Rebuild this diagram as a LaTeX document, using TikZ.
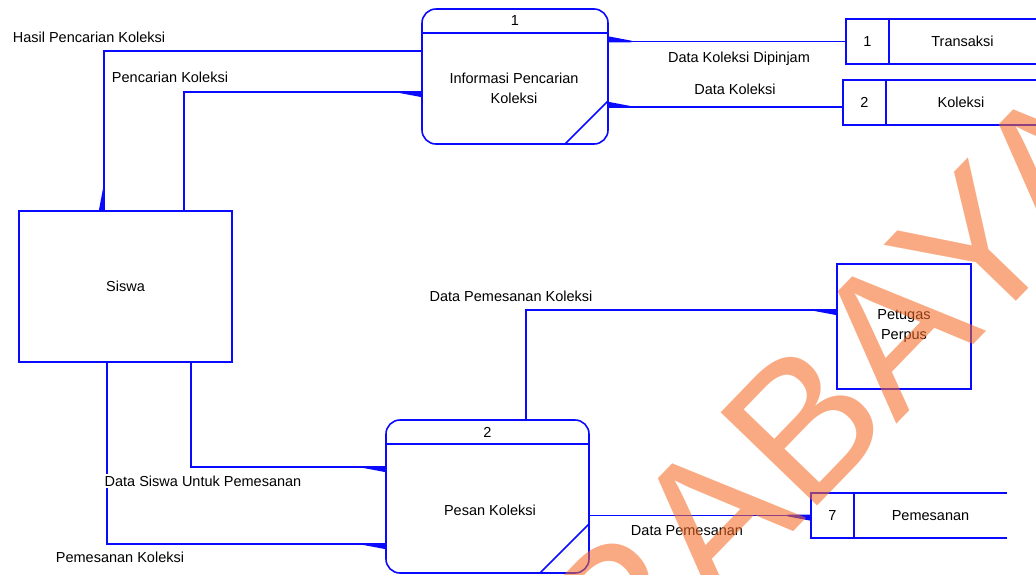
\documentclass[tikz,border=0pt]{standalone}
\usepackage{fontspec}
\setmainfont{Liberation Sans}
\usepackage{tikz}
\usetikzlibrary{arrows.meta,calc}

\definecolor{flowblue}{RGB}{10,10,255}
\definecolor{wmorange}{RGB}{245,105,35}

\begin{document}
\begin{tikzpicture}[x=1pt, y=-1pt, >={Triangle[reversed, right, length=28pt, width=10pt]},
  every node/.style={font=\fontsize{14.5pt}{20pt}\selectfont, inner sep=0pt, outer sep=0pt},
  box/.style={draw=flowblue, line width=1.6pt},
  proc/.style={box, rounded corners=14pt},
  entity/.style={box, align=center},
  store/.style={minimum height=45pt},
  flow/.style={draw=flowblue, line width=1.6pt, ->},
  watermark/.style={anchor=base, rotate=46, font=\fontsize{195pt}{195pt}\selectfont,
    text=wmorange, text opacity=0.57}]

\useasboundingbox (0,0) rectangle (1036,574);
\clip (0,0) rectangle (1036,574);

% processes
\node[proc, minimum width=186pt, minimum height=135pt] (proc1) at (515,76.5) {};
\node[proc, minimum width=203pt, minimum height=153pt] (proc2) at (487.5,496.5) {};

\foreach \p/\d in {proc1/43, proc2/49} {
  \draw[box] ([yshift=-24pt]\p.north west) -- ([yshift=-24pt]\p.north east);
  \draw[box] ([xshift=-\d pt]\p.south east) -- ([yshift=\d pt]\p.south east);
}

\node (proc1-id) at ([yshift=-12pt]proc1.north) {1};
\node[align=center] (proc1-txt) at (514,88) {Informasi Pencarian\\Koleksi};
\node (proc2-id) at ([yshift=-12pt]proc2.north) {2};
\node (proc2-txt) at (490,510) {Pesan Koleksi};

% external entities
\node[entity, minimum width=213pt, minimum height=151pt] (siswa) at (125.5,286.5) {Siswa};
\node[entity, minimum width=134pt, minimum height=125pt] (petugas) at (904,326.5) {Petugas\\Perpus};

% data stores
\foreach \n/\cx/\cy/\w/\id/\name in {ds1/941/41.5/190/1/Transaksi,
    ds2/939.5/102.5/193/2/Koleksi, ds7/909/515.5/196/7/Pemesanan} {
  \node[store, minimum width=\w pt] (\n) at (\cx,\cy) {};
  \draw[box] (\n.north east) -- (\n.north west) -- (\n.south west) -- (\n.south east);
  \draw[box] ([xshift=43pt]\n.north west) -- ([xshift=43pt]\n.south west);
  \node (\n-id) at ([xshift=21.5pt]\n.west) {\id};
  \node (\n-txt) at ($([xshift=43pt]\n.west)!0.5!(\n.east)$) {\name};
}

% flows
\coordinate (hasil) at (104,51);
\coordinate (cari) at (184,92);
\coordinate (datasiswa) at (191,467);
\coordinate (pesan) at (107,544);
\coordinate (datapesan) at (526,310);

\draw[flow] (hasil -| proc1.west) -- (hasil) -- (hasil |- siswa.north);
\draw[flow] (cari |- siswa.north) -- (cari) -- (cari -| proc1.west);
\draw[flow] (ds1.west) -- (ds1.west -| proc1.east);
\draw[flow] ([yshift=-4.5pt]ds2.west) -- ([yshift=-4.5pt]ds2.west -| proc1.east);
\draw[flow] (datasiswa |- siswa.south) -- (datasiswa) -- (datasiswa -| proc2.west);
\draw[flow] (pesan |- siswa.south) -- (pesan) -- (pesan -| proc2.west);
\draw[flow] (datapesan |- proc2.north) -- (datapesan) -- (datapesan -| petugas.west);
\draw[flow] (proc2.east |- ds7.west) -- (ds7.west);

% flow labels
\node (lbl-hasil) at (89,37) {Hasil Pencarian Koleksi};
\node (lbl-cari) at (170,77) {Pencarian Koleksi};
\node (lbl-dipinjam) at (739,59) {Data Koleksi Dipinjam};
\node (lbl-koleksi) at (735,89) {Data Koleksi};
\node (lbl-dpk) at (511,296) {Data Pemesanan Koleksi};
\node[fill=white, inner sep=2pt] (lbl-datasiswa) at (203,481) {Data Siswa Untuk Pemesanan};
\node (lbl-pesan) at (120,557) {Pemesanan Koleksi};
\node (lbl-datapesan) at (687,531) {Data Pemesanan};

% watermark
\node[watermark] (wm) at (789,536) {SURABAYA};

\end{tikzpicture}
\end{document}
